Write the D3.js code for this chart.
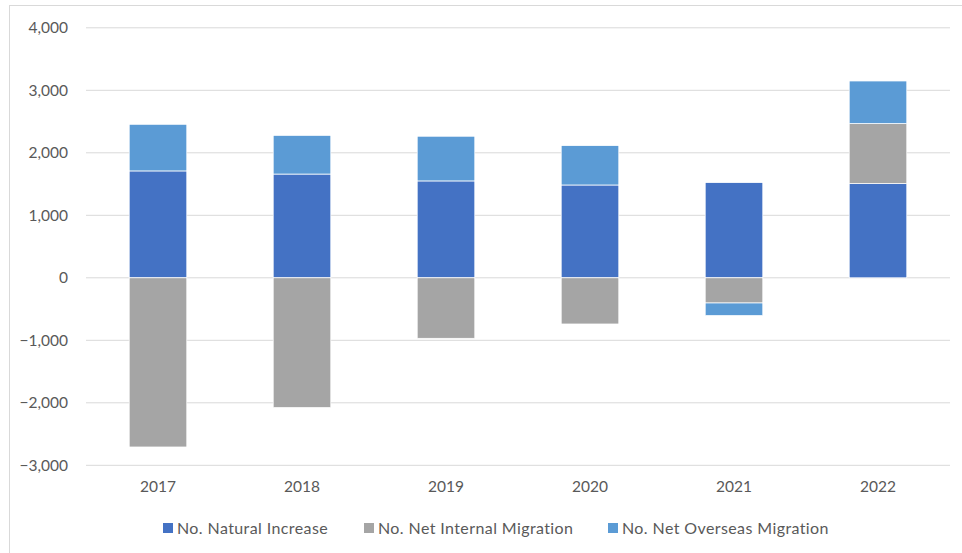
<!DOCTYPE html>
<html>
<head>
<meta charset="utf-8">
<script src="https://cdn.jsdelivr.net/npm/d3@7"></script>
<style>
  body { margin: 0; background: #fff; }
  svg { display: block; font-family: "Lato", "Open Sans", sans-serif; }
</style>
</head>
<body>
<div id="chart"></div>
<script>
const years = ["2017", "2018", "2019", "2020", "2021", "2022"]
const naturalIncrease = [1710, 1660, 1550, 1485, 1523, 1507]
const netInternal = [-2707, -2077, -968, -739, -403, 960]
const netOverseas = [746, 619, 715, 630, -202, 682]
const seriesNames = ["No. Natural Increase", "No. Net Internal Migration", "No. Net Overseas Migration"]
const yTicks = [-3000, -2000, -1000, 0, 1000, 2000, 3000, 4000]

const width = 962, height = 553
const colors = ["#4472C4", "#A5A5A5", "#5B9BD5"]
const keys = ["natural", "internal", "overseas"]

const rows = years.map((y, i) => ({
  year: y, natural: naturalIncrease[i], internal: netInternal[i], overseas: netOverseas[i]
}))

const stacked = d3.stack()
                  .keys(keys)
                  .offset(d3.stackOffsetDiverging)(rows)

const xScale = d3.scaleBand()
                 .domain(years)
                 .range([86, 950])
                 .paddingInner(0.6)
                 .paddingOuter(0.3)
const yScale = d3.scaleLinear()
                 .domain([-3000, 4000])
                 .range([465.3, 27.8])

const svg = d3.select("#chart")
              .append("svg")
              .attr("width", width)
              .attr("height", height)

// chart frame
svg.append("rect")
   .attr("x", 9.5).attr("y", 5.5)
   .attr("width", width).attr("height", height)
   .attr("fill", "none")
   .attr("stroke", "#d9d9d9")

// gridlines
svg.append("g")
   .selectAll("line")
   .data(yTicks)
   .join("line")
   .attr("x1", 86).attr("x2", 950)
   .attr("y1", d => yScale(d)).attr("y2", d => yScale(d))
   .attr("stroke", "#d9d9d9")
   .attr("stroke-width", 1)

const yAxis = d3.axisLeft(yScale)
                .tickValues(yTicks)
                .tickFormat(d3.format(","))
                .tickSize(0)
                .tickPadding(18)
svg.append("g")
   .attr("transform", "translate(86,0)")
   .call(yAxis)
   .call(g => g.select(".domain").remove())
   .selectAll("text")
   .attr("font-size", 15.5)
   .attr("fill", "#595959")
   .attr("font-family", "Lato, sans-serif")

// bars
svg.append("g")
   .selectAll("g")
   .data(stacked)
   .join("g")
   .attr("fill", (d, i) => colors[i])
   .selectAll("rect")
   .data(d => d)
   .join("rect")
   .attr("x", d => xScale(d.data.year))
   .attr("width", xScale.bandwidth())
   .attr("y", d => yScale(Math.max(d[0], d[1])))
   .attr("height", d => Math.abs(yScale(d[0]) - yScale(d[1])))
   .attr("stroke", "#fff")
   .attr("stroke-width", 0.75)

const xAxis = d3.axisBottom(xScale)
                .tickSize(0)
                .tickPadding(16)
svg.append("g")
   .attr("transform", "translate(0,465.3)")
   .call(xAxis)
   .call(g => g.select(".domain").remove())
   .selectAll("text")
   .attr("font-size", 15.5)
   .attr("fill", "#595959")
   .attr("font-family", "Lato, sans-serif")

// legend
const legendX = [163, 364, 608]
const legend = svg.append("g")
                  .selectAll("g")
                  .data(seriesNames)
                  .join("g")
                  .attr("transform", (d, i) => "translate(" + legendX[i] + ",528)")
legend.append("rect")
      .attr("x", 0).attr("y", -5)
      .attr("width", 10).attr("height", 10)
      .attr("fill", (d, i) => colors[i])
legend.append("text")
      .attr("x", 14)
      .attr("dy", "0.35em")
      .attr("font-size", 16)
      .attr("letter-spacing", 0.4)
      .attr("fill", "#595959")
      .text(d => d)
</script>
</body>
</html>
